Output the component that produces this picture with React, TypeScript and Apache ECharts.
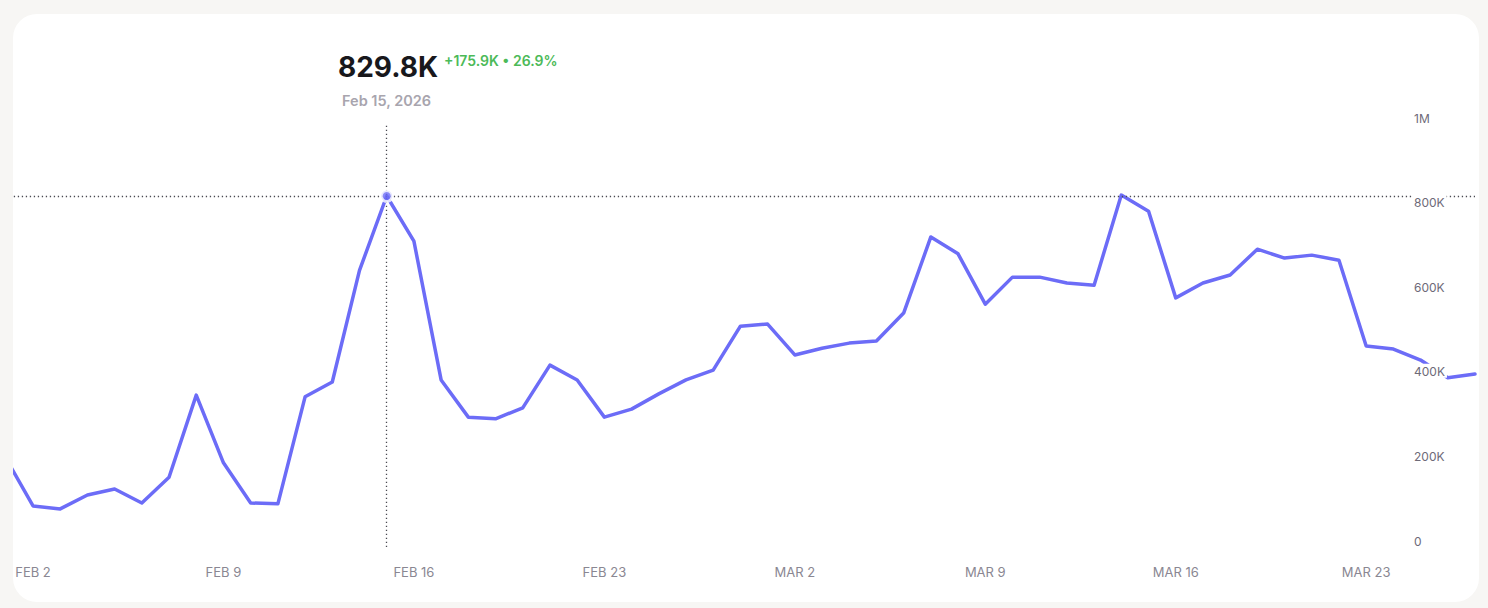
import React, { useEffect, useRef } from "react";
import * as echarts from "echarts";

const categories = [
  "Feb 1", "Feb 2", "Feb 3", "Feb 4", "Feb 5", "Feb 6", "Feb 7", "Feb 8", "Feb 9", "Feb 10",
  "Feb 11", "Feb 12", "Feb 13", "Feb 14", "Feb 15", "Feb 16", "Feb 17", "Feb 18", "Feb 19", "Feb 20",
  "Feb 21", "Feb 22", "Feb 23", "Feb 24", "Feb 25", "Feb 26", "Feb 27", "Feb 28",
  "Mar 1", "Mar 2", "Mar 3", "Mar 4", "Mar 5", "Mar 6", "Mar 7", "Mar 8", "Mar 9", "Mar 10",
  "Mar 11", "Mar 12", "Mar 13", "Mar 14", "Mar 15", "Mar 16", "Mar 17", "Mar 18", "Mar 19", "Mar 20",
  "Mar 21", "Mar 22", "Mar 23", "Mar 24", "Mar 25", "Mar 26", "Mar 27",
];

const values = [
  210000, 97000, 90000, 123000, 137000, 104000, 165000, 359000, 199000, 104000,
  102000, 355000, 390000, 653900, 829800, 723000, 395000, 307000, 303000, 329000,
  430000, 395000, 307000, 326000, 362000, 395000, 418000, 522000,
  527000, 454000, 470000, 482000, 487000, 553000, 733000, 693000, 574000, 638000,
  638000, 624000, 619000, 832000, 794000, 589000, 624000, 643000, 704000, 683000,
  690000, 678000, 475000, 468000, 442000, 400000, 409000,
];

const focusCategory = "Feb 15";
const focusValue = 829800;
const headlineValue = "829.8K";
const headlineChange = "+175.9K • 26.9%";
const headlineDate = "Feb 15, 2026";

const yTicks = { min: 0, max: 1000000, interval: 200000 };

const FONT = "Inter, 'Noto Sans', sans-serif";

function fmtY(v: number): string {
  if (v === 0) return "0";
  if (v >= 1000000) return v / 1000000 + "M";
  return v / 1000 + "K";
}

export default function App() {
  const ref = useRef<HTMLDivElement>(null);

  useEffect(() => {
    if (!ref.current) return;
    const chart = echarts.init(ref.current, null, { renderer: "svg" });
    const lineColor = "#6c6cf7";
    chart.setOption({
      animation: false,
      grid: { left: 5.8, right: 13, top: 124, bottom: 61, containLabel: false },
      xAxis: {
        type: "category",
        data: categories,
        boundaryGap: false,
        axisLine: { show: false },
        axisTick: { show: false },
        splitLine: { show: false },
        axisLabel: {
          interval: (idx: number) => idx % 7 === 1,
          formatter: (v: string) => v.toUpperCase(),
          color: "#8a8792",
          fontSize: 13,
          fontFamily: FONT,
          margin: 18,
        },
      },
      yAxis: {
        type: "value",
        position: "right",
        min: yTicks.min,
        max: yTicks.max,
        interval: yTicks.interval,
        z: 10,
        axisLine: { show: false },
        axisTick: { show: false },
        splitLine: { show: false },
        axisLabel: {
          inside: true,
          align: "left",
          verticalAlign: "bottom",
          margin: 63,
          lineHeight: 12,
          padding: [2, 2, 0, 2],
          backgroundColor: "#ffffff",
          color: "#6e6a78",
          fontSize: 12,
          fontFamily: FONT,
          formatter: fmtY,
        },
      },
      graphic: [
        {
          type: "text",
          left: 338,
          top: 53,
          style: {
            text: headlineValue,
            fill: "#18181c",
            font: `700 28px ${FONT}`,
          },
        },
        {
          type: "text",
          left: 444,
          top: 53,
          style: {
            text: headlineChange,
            fill: "#4cba58",
            font: `600 14px ${FONT}`,
          },
        },
        {
          type: "text",
          left: 342,
          top: 93,
          style: {
            text: headlineDate,
            fill: "#a8a5ae",
            font: `600 14.5px ${FONT}`,
          },
        },
      ],
      series: [
        {
          type: "line",
          data: values,
          showSymbol: false,
          symbol: "none",
          z: 2,
          lineStyle: { color: lineColor, width: 3.5, cap: "round", join: "round" },
          markLine: {
            silent: true,
            symbol: ["none", "none"],
            label: { show: false },
            lineStyle: { color: "#4a4a52", width: 1.3, type: [1.3, 2.7] },
            data: [{ xAxis: focusCategory }, { yAxis: focusValue }],
          },
        },
        {
          type: "scatter",
          data: [[focusCategory, focusValue]],
          symbol: "circle",
          symbolSize: 11,
          z: 5,
          itemStyle: { color: lineColor, borderColor: "#ffffff", borderWidth: 3 },
        },
      ],
    });
    return () => chart.dispose();
  }, []);

  return (
    <div
      style={{
        position: "fixed",
        left: 0,
        top: 0,
        width: 1488,
        height: 608,
        background: "#f7f6f4",
        overflow: "hidden",
      }}
    >
      <div
        style={{
          position: "absolute",
          left: 13,
          top: 14,
          width: 1466,
          height: 588,
          borderRadius: 24,
          background: "#ffffff",
          overflow: "hidden",
        }}
      >
        <div
          ref={ref}
          style={{ position: "absolute", left: -13, top: -14, width: 1488, height: 608 }}
        />
      </div>
    </div>
  );
}
